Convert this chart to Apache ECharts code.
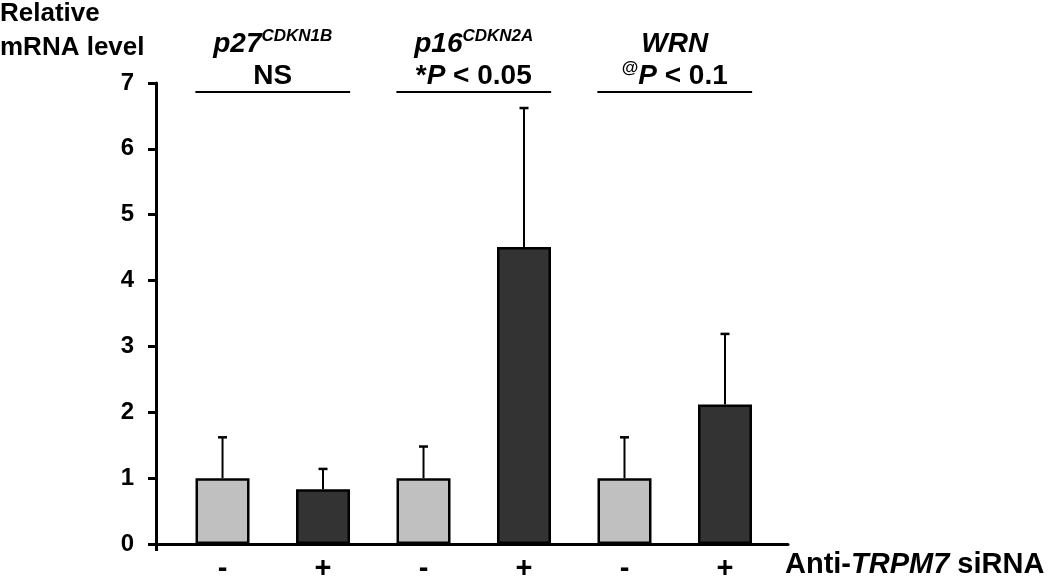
<!DOCTYPE html>
<html><head><meta charset="utf-8">
<script src="https://cdn.jsdelivr.net/npm/echarts@6/dist/echarts.min.js"></script>
<style>html,body{margin:0;padding:0;background:#fff}#c{width:1050px;height:579px}</style>
</head><body><div id="c"></div>
<script>
// ---- data ----
const signs = ['-', '+', '-', '+', '-', '+'];
const means = [1.00, 0.83, 1.00, 4.51, 1.00, 2.12];
const errs = [0.62, 0.31, 0.48, 2.11, 0.62, 1.07];
const yTickLabels = ['0', '1', '2', '3', '4', '5', '6', '7'];
const geneNames = ['p27', 'p16', 'WRN'];
const geneSups = ['CDKN1B', 'CDKN2A', ''];
const statLabels = ['{b|NS}', '{b|*}{bi|P}{b| < 0.05}', '{s2|@}{bi|P}{b| < 0.1}'];
const yAxisTitle = 'Relative\nmRNA level';
const xAxisTitle = '{b|Anti-}{bi|TRPM7}{b| siRNA}';

const FONT = '"Liberation Sans", Arial, Helvetica, sans-serif';
const LIGHT = '#c0c0c0', DARK = '#333333';
const LINE_Y = 6.86;

const chart = echarts.init(document.getElementById('c'), null, {renderer: 'canvas'});

const barData = means.map((m, i) => ({
  value: [i, m],
  itemStyle: {color: signs[i] === '-' ? LIGHT : DARK}
}));

const markData = geneNames.map((g, k) => [
  {coord: [2 * k - 0.27, LINE_Y],
   label: {formatter: (geneSups[k] ? '{gi|' + g + '}{sup|' + geneSups[k] + '}' : '{gi|' + g + '}') + '\n' + statLabels[k]}},
  {coord: [2 * k + 1.27, LINE_Y]}
]);

const richTxt = {
  gi: {fontFamily: FONT, fontSize: 28, fontWeight: 'bold', fontStyle: 'italic', color: '#000', lineHeight: 32},
  sup: {fontFamily: FONT, fontSize: 17, fontWeight: 'bold', fontStyle: 'italic', color: '#000', lineHeight: 17, verticalAlign: 'top'},
  b: {fontFamily: FONT, fontSize: 28, fontWeight: 'bold', color: '#000', lineHeight: 32},
  bi: {fontFamily: FONT, fontSize: 28, fontWeight: 'bold', fontStyle: 'italic', color: '#000', lineHeight: 32},
  s2: {fontFamily: FONT, fontSize: 17, fontWeight: 'bold', color: '#000', lineHeight: 17, verticalAlign: 'top'}
};

chart.setOption({
  animation: false,
  backgroundColor: '#fff',
  title: {
    text: yAxisTitle, left: 0, top: -3, padding: 0,
    textStyle: {fontFamily: FONT, fontSize: 26, fontWeight: 'bold', color: '#000', lineHeight: 34}
  },
  grid: {left: 156, right: 262, top: 83, height: 461, containLabel: false, outerBoundsMode: 'none'},
  xAxis: {
    type: 'value', min: -0.662, max: 5.627,
    splitLine: {show: false},
    axisLine: {show: true, lineStyle: {color: '#000', width: 3}},
    axisTick: {show: true, customValues: [-0.662], length: 7, lineStyle: {color: '#000', width: 3}},
    axisLabel: {
      customValues: [0, 1, 2, 3, 4, 5],
      formatter: v => signs[Math.round(v)],
      fontFamily: FONT, fontSize: 29, fontWeight: 'bold', color: '#000', margin: 10
    },
    name: xAxisTitle, nameLocation: 'end', nameGap: -3,
    nameTextStyle: {
      verticalAlign: 'top', align: 'left', padding: [6, 0, 0, 0],
      rich: {
        b: {fontFamily: FONT, fontSize: 29, fontWeight: 'bold', color: '#000'},
        bi: {fontFamily: FONT, fontSize: 29, fontWeight: 'bold', fontStyle: 'italic', color: '#000'}
      }
    }
  },
  yAxis: {
    type: 'value', min: 0, max: 7, interval: 1,
    splitLine: {show: false},
    axisLine: {show: true, onZero: false, lineStyle: {color: '#000', width: 3}},
    axisTick: {show: true, length: 8, lineStyle: {color: '#000', width: 3}},
    axisLabel: {
      formatter: v => yTickLabels[Math.round(v)],
      fontFamily: FONT, fontSize: 24, fontWeight: 'bold', color: '#000', margin: 22
    }
  },
  series: [
    {
      type: 'custom',
      z: 1,
      data: means.map((m, i) => [i, m, m + errs[i]]),
      encode: {x: 0, y: [1, 2]},
      renderItem: (params, api) => {
        const x = api.value(0);
        const lo = api.coord([x, api.value(1)]);
        const hi = api.coord([x, api.value(2)]);
        return {
          type: 'group',
          children: [
            {type: 'line', shape: {x1: lo[0], y1: lo[1], x2: hi[0], y2: hi[1]}, style: {stroke: '#000', lineWidth: 2}},
            {type: 'line', shape: {x1: hi[0] - 4.5, y1: hi[1], x2: hi[0] + 4.5, y2: hi[1]}, style: {stroke: '#000', lineWidth: 2.5}}
          ]
        };
      }
    },
    {
      type: 'bar',
      z: 2,
      barWidth: 54,
      data: barData,
      itemStyle: {borderColor: '#000', borderWidth: 2.5},
      markLine: {
        silent: true, symbol: 'none', animation: false,
        lineStyle: {color: '#000', width: 2, type: 'solid'},
        label: {show: true, position: 'insideMiddleTop', distance: 0, rich: richTxt, color: '#000'},
        data: markData
      }
    }
  ]
});
</script>
</body></html>
